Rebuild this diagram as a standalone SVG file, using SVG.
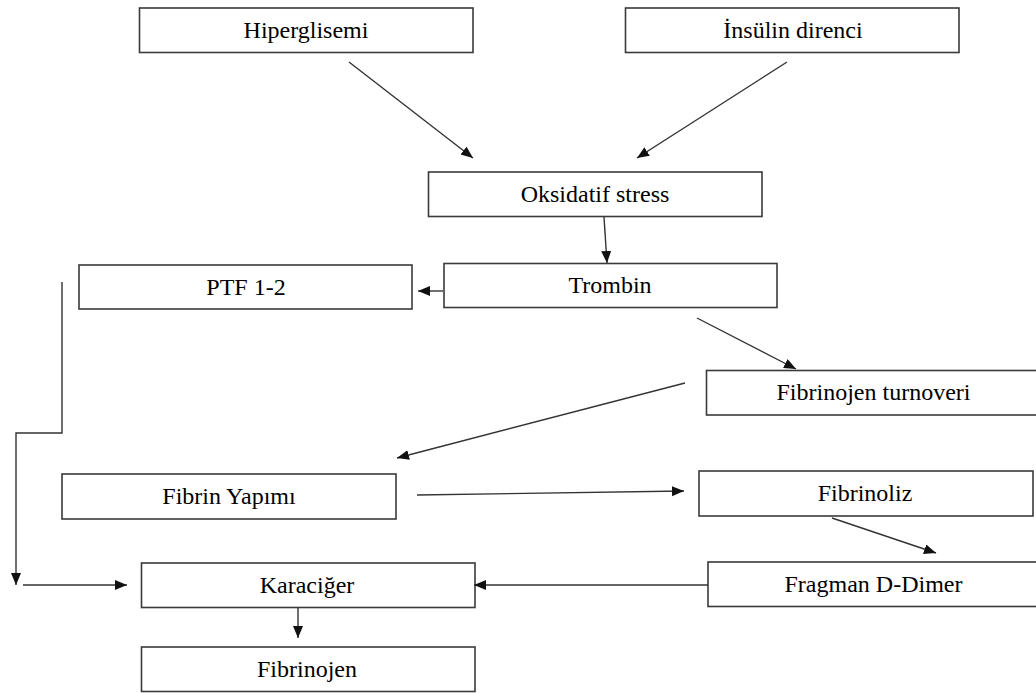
<svg xmlns="http://www.w3.org/2000/svg" width="1036" height="693" viewBox="0 0 1036 693">
<style>
.box{fill:#fff;stroke:#3a3a3a;stroke-width:1.6}
.lbl{font-family:"Liberation Serif","Times New Roman",serif;font-size:24px;fill:#000;text-anchor:middle}
.cn{stroke:#333;stroke-width:1.4;fill:none}
</style>
<defs>
<marker id="ah" markerUnits="userSpaceOnUse" markerWidth="13" markerHeight="11" refX="12" refY="5" orient="auto">
<path d="M0,0 L12,5 L0,10 z" fill="#111"/>
</marker>
</defs>
<rect width="1036" height="693" fill="#fff"/>
<g id="n-hiperglisemi"><rect class="box" x="139.5" y="8" width="333.5" height="44.5"/><text class="lbl" x="306" y="38">Hiperglisemi</text></g>
<g id="n-insulin"><rect class="box" x="625.5" y="8" width="333.5" height="44.5"/><text class="lbl" x="793" y="38">İnsülin direnci</text></g>
<g id="n-oksidatif"><rect class="box" x="428.5" y="172" width="333.5" height="44.5"/><text class="lbl" x="595" y="202">Oksidatif stress</text></g>
<g id="n-ptf"><rect class="box" x="79" y="265" width="333" height="44"/><text class="lbl" x="246" y="295">PTF 1-2</text></g>
<g id="n-trombin"><rect class="box" x="444" y="263.5" width="333" height="44"/><text class="lbl" x="610" y="293">Trombin</text></g>
<g id="n-turnover"><rect class="box" x="706.5" y="370.5" width="336" height="44.5"/><text class="lbl" x="873.5" y="400">Fibrinojen turnoveri</text></g>
<g id="n-fibrin"><rect class="box" x="62" y="474" width="334" height="45"/><text class="lbl" x="229" y="504">Fibrin Yapımı</text></g>
<g id="n-fibrinoliz"><rect class="box" x="699" y="471" width="334" height="45"/><text class="lbl" x="865" y="501">Fibrinoliz</text></g>
<g id="n-fragman"><rect class="box" x="708" y="562" width="334" height="44.5"/><text class="lbl" x="873.5" y="592">Fragman D-Dimer</text></g>
<g id="n-karaciger"><rect class="box" x="141.5" y="563" width="333.5" height="44.5"/><text class="lbl" x="307" y="593">Karaciğer</text></g>
<g id="n-fibrinojen"><rect class="box" x="141.5" y="647" width="333.5" height="44.5"/><text class="lbl" x="307" y="677">Fibrinojen</text></g>
<g id="connectors">
<line class="cn" x1="349" y1="62" x2="473" y2="158" marker-end="url(#ah)"/>
<line class="cn" x1="787" y1="62" x2="637" y2="158" marker-end="url(#ah)"/>
<line class="cn" x1="604" y1="217" x2="607" y2="263" marker-end="url(#ah)"/>
<line class="cn" x1="443" y1="291" x2="418" y2="291" marker-end="url(#ah)"/>
<line class="cn" x1="697" y1="318" x2="796" y2="369" marker-end="url(#ah)"/>
<line class="cn" x1="685" y1="383" x2="397" y2="458" marker-end="url(#ah)"/>
<line class="cn" x1="417" y1="495" x2="684" y2="491" marker-end="url(#ah)"/>
<line class="cn" x1="832" y1="518" x2="936" y2="553" marker-end="url(#ah)"/>
<line class="cn" x1="708" y1="585" x2="474" y2="585" marker-end="url(#ah)"/>
<polyline class="cn" points="62,282 62,433 16,433 16,585" marker-end="url(#ah)"/>
<line class="cn" x1="23" y1="585" x2="127" y2="585" marker-end="url(#ah)"/>
<line class="cn" x1="298" y1="608" x2="298" y2="638" marker-end="url(#ah)"/>
</g>
</svg>
